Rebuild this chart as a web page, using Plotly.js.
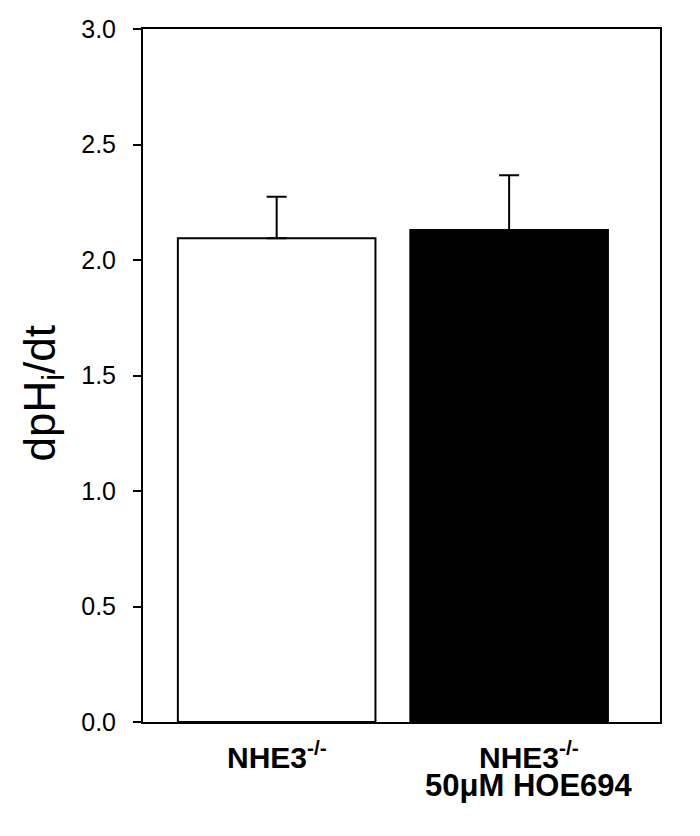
<!DOCTYPE html>
<html>
<head>
<meta charset="utf-8">
<script src="https://cdn.plot.ly/plotly-3.0.1.min.js"></script>
<style>html,body{margin:0;padding:0;background:#fff;}#chart{width:700px;height:836px;}</style>
</head>
<body>
<div id="chart"></div>
<script>
// Data
var positions = [0, 1];
var labelLine1 = ["NHE3<sup>-/-</sup>", "NHE3<sup>-/-</sup>"];
var labelLine2 = ["", "50\u03BCM HOE694"];
var values = [2.094, 2.13];
var errorsUp = [0.18, 0.237];
var fillColors = ["#ffffff", "#000000"];
var yTicks = [0, 0.5, 1.0, 1.5, 2.0, 2.5, 3.0];
var yTitle = "dpH<sub>i</sub>/dt";

var trace = {
  type: 'bar',
  x: positions,
  y: values,
  width: 0.85,
  marker: {color: fillColors, line: {color: '#000', width: 2}},
  error_y: {type: 'data', symmetric: false, array: errorsUp, arrayminus: [0, 0],
            color: '#000', thickness: 2, width: 10},
  hoverinfo: 'none'
};

var FONT = 'Arial, Liberation Sans, sans-serif';
var annotations = [];
var xShift = [0, 20];
for (var i = 0; i < positions.length; i++) {
  annotations.push({x: positions[i], y: 0, xref: 'x', yref: 'y', text: labelLine1[i],
    showarrow: false, xanchor: 'center', yanchor: 'top', yshift: -12, xshift: xShift[i],
    font: {family: FONT, size: 30, color: '#000', weight: 'bold'}});
  if (labelLine2[i]) {
    annotations.push({x: positions[i], y: 0, xref: 'x', yref: 'y', text: labelLine2[i],
      showarrow: false, xanchor: 'center', yanchor: 'top', yshift: -44, xshift: xShift[i],
      font: {family: FONT, size: 31, color: '#000', weight: 'bold'}});
  }
}
// y-axis title placed as an annotation (reference title sits slightly below centre)
annotations.push({x: 0, y: 1.5, xref: 'paper', yref: 'y', text: yTitle, textangle: -90,
  showarrow: false, xanchor: 'center', yanchor: 'middle', xshift: -101, yshift: -18,
  font: {family: FONT, size: 44, color: '#000'}});

var layout = {
  width: 700, height: 836,
  margin: {l: 142.5, r: 40, t: 29, b: 114, pad: 0},
  paper_bgcolor: '#fff', plot_bgcolor: '#fff',
  showlegend: false,
  font: {family: FONT, color: '#000'},
  xaxis: {
    range: [-0.575, 1.649], showgrid: false, zeroline: false,
    showline: true, linecolor: '#000', linewidth: 2, mirror: true,
    ticks: '', showticklabels: false, fixedrange: true
  },
  yaxis: {
    range: [0, 3], tickvals: yTicks, tickformat: '.1f',
    showgrid: false, zeroline: false,
    showline: true, linecolor: '#000', linewidth: 2, mirror: true,
    ticks: 'outside', ticklen: 8, tickwidth: 2, tickcolor: '#000',
    ticklabelstandoff: 12,
    tickfont: {family: FONT, size: 25, color: '#000'},
    fixedrange: true
  },
  annotations: annotations,
  bargap: 0
};

Plotly.newPlot('chart', [trace], layout, {displayModeBar: false, staticPlot: true});
</script>
</body>
</html>
